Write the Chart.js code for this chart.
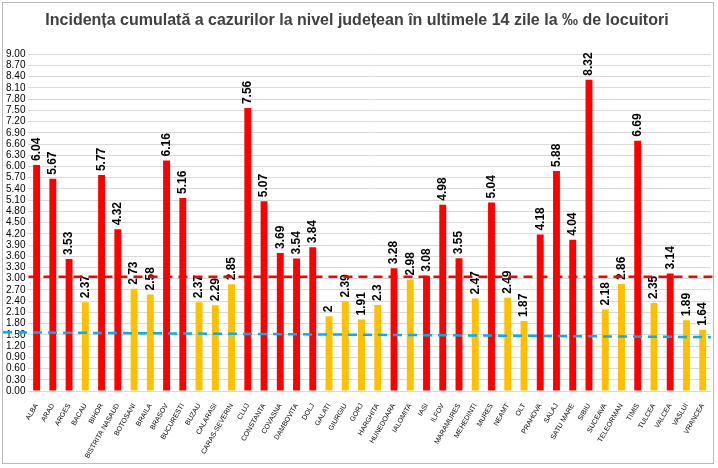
<!DOCTYPE html>
<html><head><meta charset="utf-8">
<script src="https://cdn.jsdelivr.net/npm/chart.js@4"></script>
<style>body{margin:0;background:#fff}#wrap{position:absolute;left:2px;top:2px;width:712px;height:462px;border:1px solid #bbb;box-sizing:border-box}</style>
</head><body><div id="wrap"><canvas id="c"></canvas></div>
<script>
// judete si incidenta
const counties = ['ALBA','ARAD','ARGES','BACAU','BIHOR','BISTRITA NASAUD','BOTOSANI','BRAILA','BRASOV','BUCURESTI','BUZAU','CALARASI','CARAS-SEVERIN','CLUJ','CONSTANTA','COVASNA','DAMBOVITA','DOLJ','GALATI','GIURGIU','GORJ','HARGHITA','HUNEDOARA','IALOMITA','IASI','ILFOV','MARAMURES','MEHEDINTI','MURES','NEAMT','OLT','PRAHOVA','SALAJ','SATU MARE','SIBIU','SUCEAVA','TELEORMAN','TIMIS','TULCEA','VALCEA','VASLUI','VRANCEA'];
const incidence = [6.04,5.67,3.53,2.37,5.77,4.32,2.73,2.58,6.16,5.16,2.37,2.29,2.85,7.56,5.07,3.69,3.54,3.84,2,2.39,1.91,2.3,3.28,2.98,3.08,4.98,3.55,2.47,5.04,2.49,1.87,4.18,5.88,4.04,8.32,2.18,2.86,6.69,2.35,3.14,1.89,1.64];
const threshold = 3.05;
const trendLine = [1.57, 1.44]; // start, end

const colors = incidence.map(v => v > 3 ? '#ff0000' : '#ffc000');

const extras = {
  id: 'extras',
  afterDatasetsDraw(chart) {
    const {ctx, chartArea: a, scales: {y}} = chart;
    ctx.save();
    // value labels
    const meta = chart.getDatasetMeta(0);
    ctx.font = 'bold 12px Arial, "Liberation Sans"';
    ctx.fillStyle = '#000';
    ctx.textAlign = 'left';
    ctx.textBaseline = 'middle';
    meta.data.forEach((bar, i) => {
      ctx.save();
      ctx.translate(bar.x, bar.y - 4);
      ctx.rotate(-Math.PI / 2);
      ctx.fillText(String(incidence[i]), 0, 0);
      ctx.restore();
    });
    // threshold lines
    ctx.lineWidth = 2.5;
    ctx.setLineDash([9, 6]);
    ctx.strokeStyle = '#ff0000';
    ctx.beginPath();
    ctx.moveTo(a.left, y.getPixelForValue(threshold));
    ctx.lineTo(chart.width, y.getPixelForValue(threshold));
    ctx.stroke();
    ctx.strokeStyle = '#00b0f0';
    ctx.beginPath();
    ctx.moveTo(0, y.getPixelForValue(trendLine[0]));
    ctx.lineTo(a.right, y.getPixelForValue(trendLine[1]));
    ctx.stroke();
    ctx.restore();
  }
};

new Chart(document.getElementById('c'), {
  type: 'bar',
  data: {
    labels: counties,
    datasets: [{ data: incidence, backgroundColor: colors, categoryPercentage: 0.85, barPercentage: 0.5 }]
  },
  options: {
    responsive: true,
    maintainAspectRatio: false,
    animation: false,
    layout: { padding: { left: 0, right: 2, top: 2, bottom: 0 } },
    plugins: {
      legend: { display: false },
      tooltip: { enabled: false },
      title: {
        display: true,
        text: 'Incidența cumulată a cazurilor la nivel județean în ultimele 14 zile la ‰ de locuitori',
        color: '#404040',
        font: { size: 16, weight: 'bold', family: 'Arial, "Liberation Sans"' },
        padding: { top: 6, bottom: 24 }
      }
    },
    scales: {
      y: {
        min: 0, max: 9,
        ticks: { stepSize: 0.3, autoSkip: false, callback: v => v.toFixed(2), color: '#000', font: { size: 10, family: 'Arial, "Liberation Sans"' } },
        grid: { color: '#d9d9d9', drawTicks: false },
        border: { display: false }
      },
      x: {
        ticks: { autoSkip: false, minRotation: 60, maxRotation: 60, color: '#000', font: { size: 7, family: 'Arial, "Liberation Sans"' } },
        grid: { display: false },
        border: { color: '#d9d9d9' }
      }
    }
  },
  plugins: [extras]
});
</script></body></html>
